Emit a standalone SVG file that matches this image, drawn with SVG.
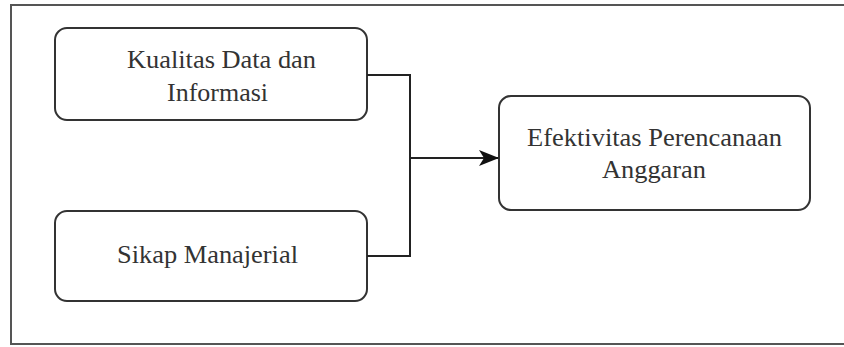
<svg xmlns="http://www.w3.org/2000/svg" width="844" height="347" viewBox="0 0 844 347">
<style>
.node rect{fill:#fff;stroke:#333;stroke-width:2}
.t{font-family:"Liberation Serif","Times New Roman",serif;font-size:25px;fill:#333;text-anchor:middle}
.conn{fill:none;stroke:#222;stroke-width:2}
</style>
<defs>
<marker id="arr" viewBox="0 0 20 16" refX="19" refY="8" markerWidth="20" markerHeight="16" markerUnits="userSpaceOnUse" orient="auto">
<path d="M0,0 L20,8 L0,16 L5,8 Z" fill="#111"/>
</marker>
</defs>
<rect x="11" y="5" width="845" height="339" fill="#fff" stroke="#555" stroke-width="2"/>
<g id="n1" class="node"><rect x="55" y="28" width="312" height="92" rx="12"/><text class="t" x="221.5" y="68" textLength="189" lengthAdjust="spacingAndGlyphs">Kualitas Data dan</text><text class="t" x="217.5" y="101" textLength="101" lengthAdjust="spacingAndGlyphs">Informasi</text></g>
<g id="n2" class="node"><rect x="55" y="211" width="312" height="90" rx="12"/><text class="t" x="207.5" y="263" textLength="181" lengthAdjust="spacingAndGlyphs">Sikap Manajerial</text></g>
<g id="n3" class="node"><rect x="499" y="96" width="311" height="114" rx="12"/><text class="t" x="654.5" y="146" textLength="255" lengthAdjust="spacingAndGlyphs">Efektivitas Perencanaan</text><text class="t" x="654" y="178" textLength="104" lengthAdjust="spacingAndGlyphs">Anggaran</text></g>
<g id="connectors">
<path class="conn" d="M367,75 H410 V256 H367"/>
<path class="conn" d="M410,158 H498" marker-end="url(#arr)"/>
</g>
</svg>
